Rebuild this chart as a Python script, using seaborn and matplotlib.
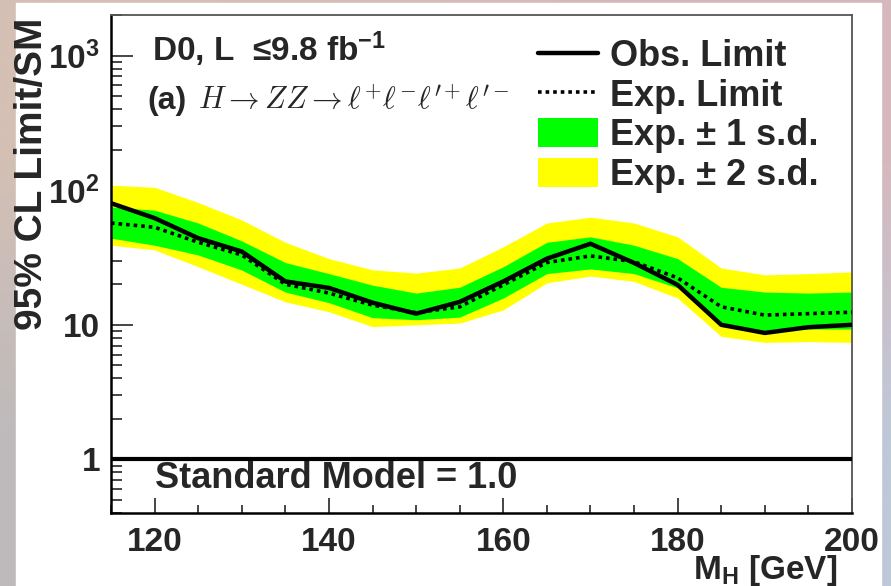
import numpy as np
import pandas as pd
import matplotlib
matplotlib.use("Agg")
import matplotlib.pyplot as plt
import seaborn as sns
from matplotlib.lines import Line2D
from matplotlib.patches import Patch, Rectangle
from matplotlib.ticker import FixedLocator, FixedFormatter, NullFormatter

# ---------------- data ----------------
mass = [115, 120, 125, 130, 135, 140, 145, 150, 155, 160, 165, 170, 175, 180, 185, 190, 195, 200]
obs_limit = [80, 62, 44, 35, 21, 18.8, 14.6, 12.1, 14.8, 21, 31, 40, 28.8, 19.8, 10, 8.7, 9.6, 10]
exp_limit = [57, 53, 41, 33, 20, 17.2, 14, 12.3, 13.6, 19.8, 29, 32.5, 29.4, 22.3, 13.6, 11.8, 12.1, 12.4]
exp_p1 = [75, 71, 57, 42, 29, 24, 19.7, 17.2, 19, 27, 41, 45, 39, 31, 19, 17.5, 17.2, 17.5]
exp_m1 = [44, 39, 33, 25.5, 17.5, 14.6, 11.3, 10.9, 11.4, 15.8, 24, 26, 24, 18.8, 9.7, 9.0, 9.3, 9.3]
exp_p2 = [109, 105, 81, 60, 41, 31, 25.6, 24.2, 26.4, 38, 57, 63, 57, 45, 26.4, 23.5, 24, 24.7]
exp_m2 = [39, 36, 27, 20, 14.8, 12.5, 9.7, 10, 10.3, 12.9, 20.5, 23, 21, 15.8, 8.2, 7.4, 7.5, 7.4]
sm_value = 1.0

y_ticks = [1, 10, 100, 1000]
y_ticklabels = ["1", "10", r"$\mathbf{10^{2}}$", r"$\mathbf{10^{3}}$"]
x_ticks = [120, 140, 160, 180, 200]
x_ticklabels = ["120", "140", "160", "180", "200"]

df = pd.DataFrame({"mass": mass, "obs": obs_limit, "exp": exp_limit})

# ---------------- style ----------------
sns.set_style("ticks")
plt.rcParams["font.family"] = ["Liberation Sans", "DejaVu Sans"]
plt.rcParams["font.weight"] = "bold"
plt.rcParams["mathtext.fontset"] = "custom"
plt.rcParams["mathtext.rm"] = "Liberation Sans:bold"
plt.rcParams["mathtext.bf"] = "Liberation Sans:bold"
plt.rcParams["mathtext.it"] = "Liberation Sans:bold:italic"

W, H = 891, 586
fig = plt.figure(figsize=(W / 100, H / 100), dpi=100)

# background gradient frame
bg = fig.add_axes([0, 0, 1, 1], zorder=-10)
grad = np.array([[[212, 192, 180], [214, 184, 188]],
                 [[190, 186, 188], [190, 200, 216]]]) / 255.0
bg.imshow(grad, extent=[0, 1, 0, 1], aspect="auto", interpolation="bilinear")
bg.add_patch(Rectangle((16 / W, 0), (881 - 16) / W, 1 - 3 / H, color="white"))
bg.set_xlim(0, 1)
bg.set_ylim(0, 1)
bg.axis("off")

def px(x, y):
    return x / W, 1 - y / H

ax_l, ax_r, ax_t, ax_b = 111, 852, 15, 513
ax = fig.add_axes([ax_l / W, 1 - ax_b / H, (ax_r - ax_l) / W, (ax_b - ax_t) / H])
ax.set_facecolor("white")

ax.fill_between(mass, exp_m2, exp_p2, color="#ffff00", lw=0, zorder=1)
ax.fill_between(mass, exp_m1, exp_p1, color="#00ff00", lw=0, zorder=2)
sns.lineplot(data=df, x="mass", y="exp", ax=ax, color="black", lw=2.6,
             linestyle=(0, (1, 1.1)), zorder=3, legend=False)
sns.lineplot(data=df, x="mass", y="obs", ax=ax, color="black", lw=3.2,
             zorder=4, legend=False)
ax.axhline(sm_value, color="black", lw=3.0, zorder=5)

ax.set_yscale("log")
ax.set_xlim(115, 200)
ax.set_ylim(0.4, 2000)

ax.yaxis.set_major_locator(FixedLocator(y_ticks))
ax.yaxis.set_major_formatter(FixedFormatter(y_ticklabels))
minor_y = [m * 10.0 ** e for e in range(-1, 4) for m in range(2, 10)]
ax.yaxis.set_minor_locator(FixedLocator([v for v in minor_y if 0.4 <= v <= 2000]))
ax.yaxis.set_minor_formatter(NullFormatter())
ax.xaxis.set_major_locator(FixedLocator(x_ticks))
ax.xaxis.set_major_formatter(FixedFormatter(x_ticklabels))
ax.xaxis.set_minor_locator(FixedLocator(list(range(115, 201, 5))))

ax.tick_params(axis="y", which="major", direction="in", length=16, width=1.2,
               labelsize=24, pad=8, left=True, right=False)
ax.tick_params(axis="y", which="minor", direction="in", length=8, width=1.2,
               left=True, right=False)
ax.tick_params(axis="x", which="major", direction="in", length=11, width=1.2,
               labelsize=24, pad=10, bottom=True, top=False)
ax.tick_params(axis="x", which="minor", direction="in", length=5.5, width=1.2,
               bottom=True, top=False)
for lab in ax.get_xticklabels() + ax.get_yticklabels():
    lab.set_fontweight("bold")

for s in ["left", "bottom"]:
    ax.spines[s].set_color("black")
    ax.spines[s].set_linewidth(1.8)
for s in ["top", "right"]:
    ax.spines[s].set_color("#555555")
    ax.spines[s].set_linewidth(1.3)

ax.set_ylabel("95% CL Limit/SM", loc="top", fontsize=28, fontweight="bold")
ax.yaxis.set_label_coords((50 - ax_l) / (ax_r - ax_l), (ax_b - 18) / (ax_b - ax_t))
ax.set_xlabel(r"$\mathbf{M_{H}}$ [GeV]", loc="right", fontsize=24, fontweight="bold")
ax.xaxis.set_label_coords((837 - ax_l) / (ax_r - ax_l), (ax_b - 553) / (ax_b - ax_t))

ax.text(120, 0.72, "Standard Model = 1.0", fontsize=26, fontweight="bold",
        va="center", ha="left", zorder=6)

fig.text(*px(152, 61), r"D0, L  ≤9.8 fb$^{\mathbf{-1}}$", fontsize=24, fontweight="bold",
         ha="left", va="baseline")
fig.text(*px(147, 109), "(a)", fontsize=23, fontweight="bold", ha="left", va="baseline")
fig.text(*px(198, 109),
         r"$H \rightarrow ZZ \rightarrow \ell^{+}\ell^{-}\ell^{\prime +}\ell^{\prime -}$",
         fontsize=22, ha="left", va="baseline", math_fontfamily="cm")

handles = [
    Line2D([], [], color="black", lw=3.2),
    Line2D([], [], color="black", lw=2.6, linestyle=(0, (1, 1.1))),
    Patch(facecolor="#00ff00", edgecolor="none"),
    Patch(facecolor="#ffff00", edgecolor="none"),
]
labels = ["Obs. Limit", "Exp. Limit", "Exp. ± 1 s.d.", "Exp. ± 2 s.d."]
leg = ax.legend(handles, labels, loc="upper left",
                bbox_to_anchor=((538 - ax_l) / (ax_r - ax_l), (ax_b - 39) / (ax_b - ax_t)),
                frameon=False, fontsize=26, handlelength=1.65, handleheight=0.85,
                handletextpad=0.35, labelspacing=0.13, borderpad=0, borderaxespad=0)
for t in leg.get_texts():
    t.set_fontweight("bold")

fig.savefig("out.png", dpi=100)
